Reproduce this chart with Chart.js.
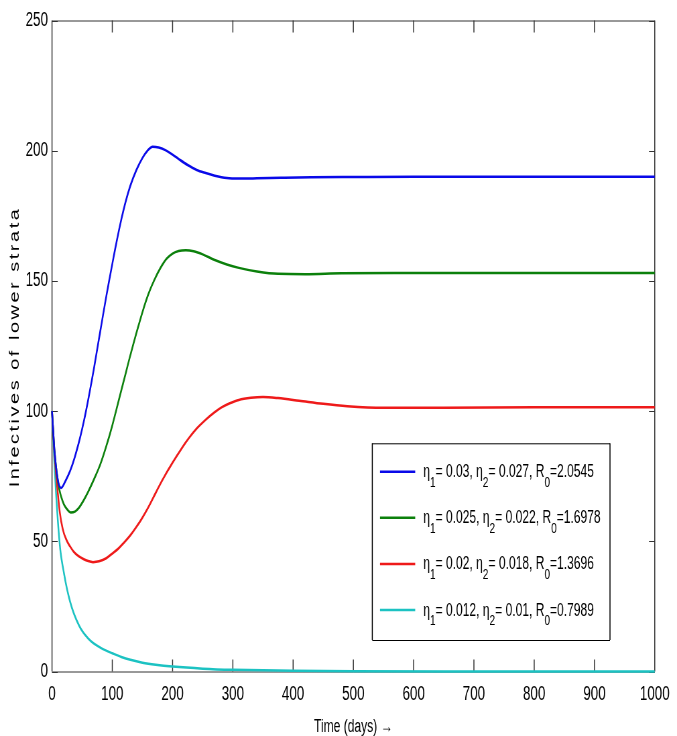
<!DOCTYPE html>
<html>
<head>
<meta charset="utf-8">
<script src="https://cdn.jsdelivr.net/npm/chart.js@4/dist/chart.umd.min.js"></script>
<style>
  html, body { margin: 0; padding: 0; background: #fff; overflow: hidden; }
  /* the canvas is drawn wide and shown narrow, so text and strokes come out condensed */
  #plot { display: block; width: 677px; height: 736px; }
</style>
</head>
<body>
<canvas id="plot" width="1010" height="736" style="width:677px;height:736px"></canvas>
<script>
// parameters per run
const eta1 = [0.03, 0.025, 0.02, 0.012];
const eta2 = [0.027, 0.022, 0.018, 0.01];
const r0 = [2.0545, 1.6978, 1.3696, 0.7989];
const colors = ["#0a0ae8", "#0c800c", "#ee1a1a", "#1cc2c2"];

// infectives of lower strata vs time (days)
const tA = [0, 4, 8, 12, 15, 22, 30, 38, 45, 50, 55, 60, 65, 70, 75, 80, 85, 90, 95, 100, 108, 115, 122, 130, 140, 150, 158, 167, 177, 188, 200, 212, 225, 240, 255, 270, 290, 310, 340, 380, 430, 500, 600, 700, 800, 900, 1000];
const iA = [100, 85, 76, 71.3, 70.5, 73, 77, 82.5, 88.4, 93.2, 98.5, 104.3, 110.5, 117, 123.8, 130.6, 137.4, 144, 150.4, 156.5, 166, 173.6, 180.3, 186.6, 192.6, 197.2, 199.9, 201.5, 201.2, 200.2, 198.5, 196.5, 194.5, 192.6, 191.4, 190.4, 189.5, 189.3, 189.4, 189.6, 189.8, 189.9, 190, 190, 190, 190, 190];

const tB = [0, 4, 8, 12, 16, 20, 25, 31, 38, 45, 52, 60, 70, 80, 90, 100, 110, 120, 130, 140, 150, 160, 170, 180, 190, 200, 210, 222, 235, 250, 270, 290, 310, 340, 375, 420, 480, 600, 800, 1000];
const iB = [100, 85, 76, 70, 66.5, 64, 62.3, 61.1, 61.4, 63, 65.5, 69, 74, 79.5, 86.5, 94.5, 103.5, 112.5, 121.5, 130, 138, 145, 150.5, 155, 158.5, 160.5, 161.5, 161.8, 161.4, 160.2, 158, 156.3, 155, 153.6, 152.7, 152.6, 152.9, 153, 153, 153];

const tC = [0, 4, 8, 13, 18, 24, 30, 36, 44, 52, 60, 68, 78, 90, 100, 110, 120, 130, 140, 150, 160, 172, 185, 200, 216, 227, 240, 254, 270, 282, 295, 310, 330, 350, 375, 410, 450, 490, 550, 650, 800, 1000];
const iC = [100, 84, 72.5, 61, 54.5, 50.5, 48, 46, 44.3, 43.2, 42.4, 42, 42.3, 43.5, 45.3, 47.2, 49.6, 52.3, 55.5, 59.1, 63.2, 68.6, 74.3, 80.2, 86, 89.6, 93.3, 96.5, 99.6, 101.5, 103, 104.3, 105.1, 105.4, 105, 104, 102.8, 101.9, 101.3, 101.3, 101.5, 101.5];

const tD = [0, 4, 8, 13.6, 20, 25, 30, 36, 45, 52, 60, 68, 80, 90, 100, 115, 130, 150, 172, 200, 250, 300, 400, 500, 700, 1000];
const iD = [100, 80, 63.5, 47, 37.5, 31.5, 26.8, 22.4, 17.6, 14.9, 12.7, 11, 9.2, 8, 7, 5.6, 4.5, 3.4, 2.6, 1.9, 1.1, 0.65, 0.25, 0.1, 0.03, 0];

const times = [tA, tB, tC, tD];
const values = [iA, iB, iC, iD];

const xMin = 0, xMax = 1000, xStep = 100;
const yMin = 0, yMax = 250, yStep = 50;

const FONT = "'Liberation Sans', Arial, sans-serif";
const AXIS = "#333";

// MATLAB-style box with inward ticks on all four sides
const boxAxes = {
  id: "boxAxes",
  beforeDatasetsDraw(chart) {
    const { ctx, chartArea: a, scales } = chart;
    ctx.save();
    ctx.strokeStyle = AXIS;
    ctx.lineWidth = 1;
    ctx.beginPath();
    ctx.moveTo(a.left, a.top + 0.5); ctx.lineTo(a.right, a.top + 0.5);
    ctx.moveTo(a.left, a.bottom + 0.5); ctx.lineTo(a.right, a.bottom + 0.5);
    ctx.stroke();
    ctx.lineWidth = 1.5;
    ctx.beginPath();
    ctx.moveTo(a.left, a.top); ctx.lineTo(a.left, a.bottom);
    ctx.moveTo(a.right, a.top); ctx.lineTo(a.right, a.bottom);
    scales.x.ticks.forEach(t => {
      const px = scales.x.getPixelForValue(t.value);
      ctx.moveTo(px, a.bottom); ctx.lineTo(px, a.bottom - 12);
      ctx.moveTo(px, a.top); ctx.lineTo(px, a.top + 12);
    });
    ctx.stroke();
    ctx.lineWidth = 1;
    ctx.beginPath();
    scales.y.ticks.forEach(t => {
      const py = Math.round(scales.y.getPixelForValue(t.value)) + 0.5;
      ctx.moveTo(a.left, py); ctx.lineTo(a.left + 8.5, py);
      ctx.moveTo(a.right, py); ctx.lineTo(a.right - 8.5, py);
    });
    ctx.stroke();
    ctx.restore();
  }
};

// legend box with subscripted labels
const paramLegend = {
  id: "paramLegend",
  afterDatasetsDraw(chart, args, o) {
    const { ctx } = chart;
    ctx.save();
    ctx.fillStyle = "#fff";
    ctx.fillRect(o.left, o.top, o.width, o.height);
    ctx.strokeStyle = "#000";
    ctx.lineWidth = 1;
    ctx.beginPath();
    ctx.moveTo(o.left, o.top + 0.5); ctx.lineTo(o.left + o.width, o.top + 0.5);
    ctx.moveTo(o.left, o.top + o.height + 0.5); ctx.lineTo(o.left + o.width, o.top + o.height + 0.5);
    ctx.stroke();
    ctx.lineWidth = 1.5;
    ctx.beginPath();
    ctx.moveTo(o.left, o.top); ctx.lineTo(o.left, o.top + o.height);
    ctx.moveTo(o.left + o.width, o.top); ctx.lineTo(o.left + o.width, o.top + o.height);
    ctx.stroke();

    chart.data.datasets.forEach((ds, i) => {
      const y = o.top + o.firstRow + i * o.rowGap;
      ctx.strokeStyle = ds.borderColor;
      ctx.lineWidth = ds.borderWidth;
      ctx.beginPath();
      ctx.moveTo(o.left + 11.5, y);
      ctx.lineTo(o.left + 64, y);
      ctx.stroke();

      const parts = [
        ["\u03b7", "1"],
        ["= " + eta1[i] + ", \u03b7", "2"],
        ["= " + eta2[i] + ", R", "0"],
        ["=" + r0[i], ""]
      ];
      let x = o.left + 76;
      const base = y + 5.5;
      ctx.fillStyle = "#000";
      ctx.textBaseline = "alphabetic";
      ctx.textAlign = "left";
      parts.forEach(([main, sub]) => {
        ctx.font = "18px " + FONT;
        ctx.fillText(main, x, base);
        x += ctx.measureText(main).width;
        if (sub) {
          ctx.font = "15px " + FONT;
          ctx.fillText(sub, x, base + 9.5);
          x += ctx.measureText(sub).width;
        }
      });
    });
    ctx.restore();
  }
};

// rotated y-axis title
const yTitle = {
  id: "yTitle",
  afterDraw(chart, args, o) {
    const { ctx, chartArea: a } = chart;
    ctx.save();
    ctx.translate(o.x, (a.top + a.bottom) / 2 + 1);
    ctx.rotate(-Math.PI / 2);
    ctx.font = "20px " + FONT;
    ctx.letterSpacing = "2.5px";
    ctx.fillStyle = "#000";
    ctx.textAlign = "center";
    ctx.textBaseline = "middle";
    ctx.fillText(o.text, 0, 0);
    ctx.restore();
  }
};

const datasets = values.map((v, i) => ({
  label: "R0=" + r0[i],
  data: times[i].map((t, k) => ({ x: t, y: v[k] })),
  borderColor: colors[i],
  borderWidth: 2.5,
  pointRadius: 0,
  fill: false,
  cubicInterpolationMode: "monotone",
  clip: 5
}));

new Chart(document.getElementById("plot"), {
  type: "line",
  data: { datasets: datasets },
  options: {
    responsive: false,
    devicePixelRatio: 1,
    animation: false,
    layout: { padding: { top: 20.5, right: 24, left: 0, bottom: 0 } },
    scales: {
      x: {
        type: "linear",
        min: xMin,
        max: xMax,
        grid: { display: false, drawTicks: false },
        border: { display: false },
        ticks: {
          stepSize: xStep,
          autoSkip: false,
          maxRotation: 0,
          padding: 11,
          color: "#000",
          font: { family: FONT, size: 20 },
          callback: v => String(v)
        },
        title: {
          display: true,
          text: "Time (days) \u2192",
          color: "#000",
          font: { family: FONT, size: 18, lineHeight: 1 },
          padding: { top: 0, bottom: 0 }
        },
        afterFit(scale) { scale.height = 64.5; }
      },
      y: {
        min: yMin,
        max: yMax,
        grid: { display: false, drawTicks: false },
        border: { display: false },
        ticks: {
          stepSize: yStep,
          padding: 6,
          color: "#000",
          font: { family: FONT, size: 20 },
          callback: v => String(v)
        },
        afterFit(scale) { scale.width = 77.6; }
      }
    },
    plugins: {
      legend: { display: false },
      tooltip: { enabled: false },
      paramLegend: { left: 555.4, top: 443.3, width: 354.6, height: 196.7, firstRow: 28.4, rowGap: 46.1 },
      yTitle: { x: 22.5, text: "Infectives of lower strata" }
    }
  },
  plugins: [boxAxes, paramLegend, yTitle]
});
</script>
</body>
</html>
